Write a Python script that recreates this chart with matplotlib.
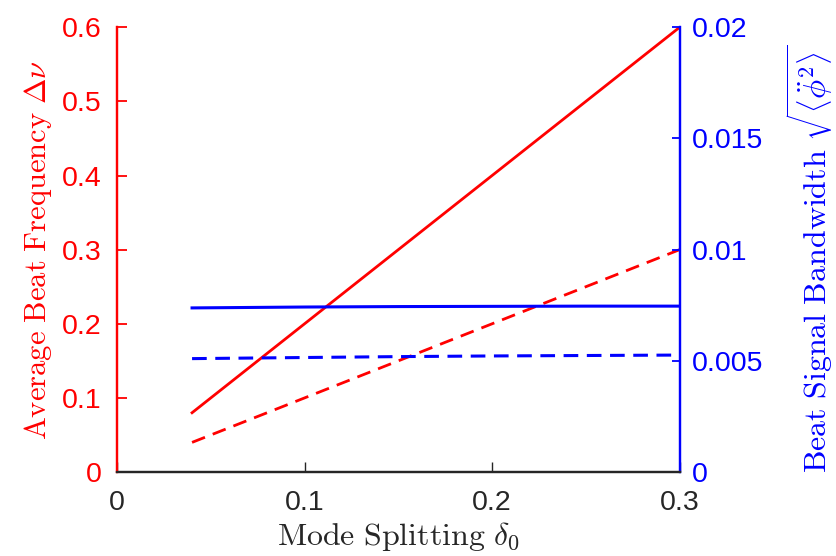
import matplotlib
matplotlib.use('Agg')
import matplotlib.pyplot as plt

plt.rcParams['mathtext.fontset'] = 'cm'
plt.rcParams['font.family'] = ['Liberation Sans', 'DejaVu Sans']

delta0 = [0.04, 0.1, 0.15, 0.2, 0.25, 0.3]
beat_solid = [0.08, 0.2, 0.3, 0.4, 0.5, 0.6]
beat_dashed = [0.04, 0.1, 0.15, 0.2, 0.25, 0.3]
bw_solid = [0.00738, 0.00742, 0.00744, 0.00745, 0.00746, 0.00746]
bw_dashed = [0.00510, 0.00515, 0.00519, 0.00522, 0.00524, 0.00526]

red = '#ff0000'
blue = '#0000ff'

fig = plt.figure(figsize=(8.36, 5.56), dpi=100)
ax = fig.add_axes([0.14, 0.151, 0.673, 0.8])
ax2 = ax.twinx()

ax.plot(delta0, beat_solid, color=red, lw=2.0)
ax.plot(delta0, beat_dashed, color=red, lw=2.0, dashes=(5, 3))
ax2.plot(delta0, bw_solid, color=blue, lw=2.2)
ax2.plot(delta0, bw_dashed, color=blue, lw=2.2, dashes=(4.8, 2.8))

ax.set_xlim(0, 0.3)
ax.set_ylim(0, 0.6)
ax2.set_ylim(0, 0.02)
ax.set_xticks([0, 0.1, 0.2, 0.3])
ax.set_xticklabels(['0', '0.1', '0.2', '0.3'])
ax.set_yticks([0, 0.1, 0.2, 0.3, 0.4, 0.5, 0.6])
ax.set_yticklabels(['0', '0.1', '0.2', '0.3', '0.4', '0.5', '0.6'])
ax2.set_yticks([0, 0.005, 0.01, 0.015, 0.02])
ax2.set_yticklabels(['0', '0.005', '0.01', '0.015', '0.02'])

for a in (ax, ax2):
    a.spines['top'].set_visible(False)
    a.spines['left'].set_color(red)
    a.spines['right'].set_color(blue)
    a.spines['bottom'].set_color('#262626')
    for s in a.spines.values():
        s.set_linewidth(1.6)

ax.tick_params(axis='x', direction='in', length=7, width=1, colors='#262626', labelsize=20.5, pad=13)
ax.tick_params(axis='y', direction='in', length=7, width=1.3, colors=red, labelsize=20.5, pad=11)
ax2.tick_params(axis='y', direction='in', length=6, width=1.3, colors=blue, labelsize=20.5, pad=9)

ax.set_xlabel(r'$\mathrm{Mode\ Splitting}\ \delta_0$', fontsize=23, color='#262626', labelpad=3)
ax.set_ylabel(r'$\mathrm{Average\ Beat\ Frequency}\ \Delta\nu$', fontsize=22, color=red, labelpad=6)
ax2.set_ylabel(r'$\mathrm{Beat\ Signal\ Bandwidth}\ \sqrt{\left\langle\ddot{\phi}^2\right\rangle}$',
               fontsize=23, color=blue)
ax2.yaxis.label.set_horizontalalignment('left')
ax2.yaxis.set_label_coords(1.1865, -0.002)

fig.savefig('out.png', dpi=100)
